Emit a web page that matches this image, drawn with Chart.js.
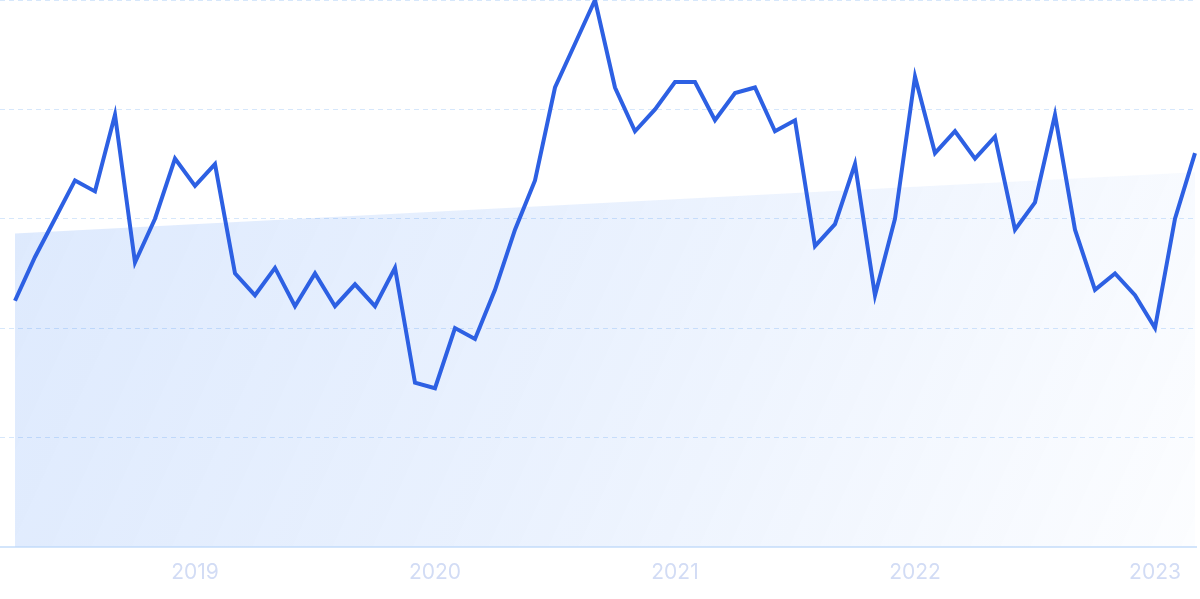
<!DOCTYPE html>
<html>
<head>
<meta charset="utf-8">
<script src="https://cdn.jsdelivr.net/npm/chart.js@4.4.1/dist/chart.umd.min.js"></script>
<style>
  html, body { margin: 0; padding: 0; background: #ffffff; }
  #wrap { width: 1200px; height: 599px; position: relative; }
</style>
</head>
<body>
<div id="wrap"><canvas id="c" width="1200" height="599"></canvas></div>
<script>
// Monthly interest values, Apr 2018 .. Mar 2023 (index 0 = Apr 2018)
const startYear = 2018;
const startMonth = 4;
const interest = [
  45, 53, 60, 67, 65, 79, 52, 60, 71, 66, 70, 50,
  46, 51, 44, 50, 44, 48, 44, 51, 30, 29, 40, 38,
  47, 58, 67, 84, 92, 100, 84, 76, 80, 85, 85, 78,
  83, 84, 76, 78, 55, 59, 70, 46, 60, 86, 72, 76,
  71, 75, 58, 63, 79, 58, 47, 50, 46, 40, 60, 72
];
// Trend line endpoints (first and last month)
const trendValues = [57.3, 68.5];
// Year tick labels and the month index where each year starts
const yearLabels = ['2019', '2020', '2021', '2022', '2023'];
const yearIndex = [9, 21, 33, 45, 57];

const months = interest.map((_, i) => {
  const m = (startMonth - 1 + i) % 12 + 1;
  const y = startYear + Math.floor((startMonth - 1 + i) / 12);
  return y + '-' + String(m).padStart(2, '0');
});

const lineData = interest.map((v, i) => ({ x: i, y: v }));
const trendData = [
  { x: 0, y: trendValues[0] },
  { x: interest.length - 1, y: trendValues[1] }
];

function areaGradient(ctx) {
  const chart = ctx.chart;
  const a = chart.chartArea;
  if (!a) return 'rgba(59,130,246,0.15)';
  const g = chart.ctx.createLinearGradient(a.left, a.top, a.right, a.bottom);
  g.addColorStop(0, 'rgba(59,130,246,0.18)');
  g.addColorStop(0.5, 'rgba(59,130,246,0.11)');
  g.addColorStop(1, 'rgba(59,130,246,0.015)');
  return g;
}

new Chart(document.getElementById('c'), {
  type: 'line',
  data: {
    labels: months,
    datasets: [
      {
        label: 'Interest',
        data: lineData,
        borderColor: '#2d60e3',
        borderWidth: 4,
        borderJoinStyle: 'miter',
        borderCapStyle: 'butt',
        tension: 0,
        pointRadius: 0,
        fill: false,
        clip: false,
        order: 0
      },
      {
        label: 'Trend',
        data: trendData,
        borderWidth: 0,
        borderColor: 'rgba(0,0,0,0)',
        backgroundColor: areaGradient,
        pointRadius: 0,
        fill: 'origin',
        tension: 0,
        order: 1
      }
    ]
  },
  options: {
    responsive: false,
    animation: false,
    devicePixelRatio: 1,
    layout: { padding: { left: 0, right: 4, top: 0, bottom: 1 } },
    plugins: {
      legend: { display: false },
      tooltip: { enabled: false }
    },
    scales: {
      x: {
        type: 'linear',
        min: -0.75,
        max: 59.05,
        afterBuildTicks: (axis) => { axis.ticks = yearIndex.map(v => ({ value: v })); },
        ticks: {
          autoSkip: false,
          maxRotation: 0,
          padding: 13,
          color: '#d2dcf5',
          font: { family: 'Inter', size: 21 },
          callback: (v) => {
            const k = yearIndex.indexOf(v);
            return k >= 0 ? yearLabels[k] : '';
          }
        },
        grid: { display: false, drawTicks: false },
        border: { display: true, color: '#d3e5fb', width: 2 }
      },
      y: {
        min: 0,
        max: 100,
        ticks: { display: false, stepSize: 20 },
        grid: { color: '#d6e7fb', lineWidth: 1, drawTicks: false },
        border: { display: false, dash: [5, 4] }
      }
    }
  }
});
</script>
</body>
</html>
